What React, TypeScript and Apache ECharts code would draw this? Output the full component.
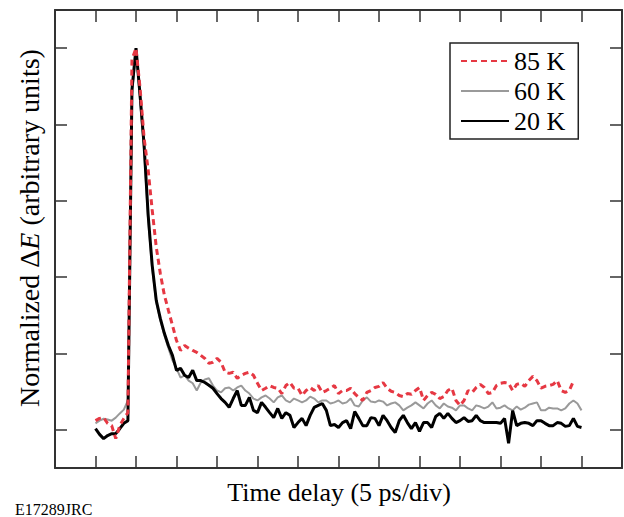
import React, { useEffect, useRef } from "react";
import * as echarts from "echarts";

// Time grid (ps), 0.5 ps steps (5 ps per division)
const timePs = [
  0, 0.5, 1, 1.5, 2, 2.5, 3, 3.5, 4, 4.5,
  5, 5.5, 6, 6.5, 7, 7.5, 8, 8.5, 9, 9.5,
  10, 10.5, 11, 11.5, 12, 12.5, 13, 13.5, 14, 14.5,
  15, 15.5, 16, 16.5, 17, 17.5, 18, 18.5, 19, 19.5,
  20, 20.5, 21, 21.5, 22, 22.5, 23, 23.5, 24, 24.5,
  25, 25.5, 26, 26.5, 27, 27.5, 28, 28.5, 29, 29.5,
  30, 30.5, 31, 31.5, 32, 32.5, 33, 33.5, 34, 34.5,
  35, 35.5, 36, 36.5, 37, 37.5, 38, 38.5, 39, 39.5,
  40, 40.5, 41, 41.5, 42, 42.5, 43, 43.5, 44, 44.5,
  45, 45.5, 46, 46.5, 47, 47.5, 48, 48.5, 49, 49.5,
  50, 50.5, 51, 51.5, 52, 52.5, 53, 53.5, 54, 54.5,
  55, 55.5, 56, 56.5, 57, 57.5, 58, 58.5, 59, 59.5,
  60,
];

const seriesNames = ["85 K", "60 K", "20 K"];

const values85K = [
  0.024, 0.03, 0.032, 0.017, 0.011, -0.023, 0.011, 0.03, 0.045, 0.97,
  1.0, 0.896, 0.765, 0.681, 0.576, 0.479, 0.41, 0.353, 0.313, 0.274,
  0.234, 0.208, 0.221, 0.214, 0.208, 0.203, 0.195, 0.187, 0.174, 0.177,
  0.187, 0.177, 0.151, 0.148, 0.151, 0.135, 0.143, 0.148, 0.151, 0.143,
  0.122, 0.103, 0.109, 0.116, 0.111, 0.109, 0.095, 0.116, 0.124, 0.109,
  0.109, 0.09, 0.103, 0.111, 0.103, 0.116, 0.098, 0.103, 0.109, 0.116,
  0.095, 0.103, 0.103, 0.109, 0.095, 0.085, 0.077, 0.098, 0.103, 0.111,
  0.114, 0.124, 0.109, 0.101, 0.098, 0.09, 0.087, 0.095, 0.093, 0.103,
  0.111, 0.077, 0.09, 0.098, 0.093, 0.082, 0.087, 0.103, 0.109, 0.077,
  0.064, 0.077, 0.103, 0.098, 0.111, 0.119, 0.111, 0.095, 0.098, 0.116,
  0.122, 0.124, 0.122, 0.103, 0.119, 0.122, 0.114, 0.129, 0.14, 0.129,
  0.109, 0.114, 0.116, 0.119, 0.129, 0.103, 0.098, 0.103, 0.127,
];

const values60K = [
  0.017, 0.024, 0.029, 0.027, 0.024, 0.032, 0.043, 0.053, 0.077, 0.877,
  1.0, 0.864, 0.733, 0.549, 0.423, 0.334, 0.287, 0.248, 0.214, 0.182,
  0.161, 0.137, 0.143, 0.129, 0.122, 0.103, 0.124, 0.132, 0.135, 0.116,
  0.103, 0.098, 0.109, 0.111, 0.103, 0.111, 0.116, 0.103, 0.095, 0.082,
  0.077, 0.085, 0.09, 0.082, 0.072, 0.085, 0.09, 0.077, 0.072, 0.082,
  0.077, 0.072, 0.077, 0.087, 0.082, 0.072, 0.077, 0.077, 0.069, 0.072,
  0.077, 0.069, 0.072, 0.082, 0.064, 0.061, 0.077, 0.085, 0.074, 0.072,
  0.077, 0.074, 0.064, 0.069, 0.072, 0.064, 0.051, 0.058, 0.064, 0.072,
  0.064, 0.056, 0.069, 0.077, 0.064, 0.056, 0.069, 0.061, 0.058, 0.051,
  0.064, 0.064, 0.056, 0.051, 0.064, 0.061, 0.056, 0.061, 0.072, 0.056,
  0.058, 0.064, 0.056, 0.051, 0.061, 0.053, 0.058, 0.066, 0.069, 0.072,
  0.051, 0.051, 0.058, 0.056, 0.056, 0.051, 0.056, 0.069, 0.077, 0.069,
  0.051,
];

const values20K = [
  0.003, -0.012, -0.023, -0.015, -0.01, -0.01, 0.003, 0.017, 0.024, 0.891,
  1.0, 0.877, 0.746, 0.563, 0.431, 0.339, 0.292, 0.253, 0.221, 0.195,
  0.156, 0.161, 0.143, 0.137, 0.156, 0.129, 0.129, 0.124, 0.117, 0.109,
  0.095, 0.082, 0.072, 0.059, 0.082, 0.103, 0.064, 0.064, 0.085, 0.051,
  0.045, 0.072, 0.059, 0.045, 0.032, 0.056, 0.03, 0.045, 0.038, 0.006,
  0.019, 0.03, 0.011, 0.038, 0.059, 0.064, 0.069, 0.051, 0.011, 0.014,
  0.006, 0.019, 0.024, 0.003, 0.048, 0.03, 0.011, 0.011, 0.032, 0.03,
  0.011, 0.038, 0.024, 0.006, -0.007, 0.024, 0.038, 0.019, 0.003, 0.019,
  -0.004, 0.019, 0.019, 0.006, 0.035, 0.043, 0.03, 0.043, 0.03, 0.019,
  0.024, 0.032, 0.022, 0.024, 0.038, 0.024, 0.019, 0.019, 0.019, 0.019,
  0.017, 0.03, -0.035, 0.05, 0.011, 0.017, 0.019, 0.017, 0.011, 0.024,
  0.024, 0.017, 0.011, 0.011, 0.019, 0.017, 0.009, 0.011, 0.03, 0.009,
  0.006,
];

const xTitle = "Time delay (5 ps/div)";
const yTitleParts = ["Normalized Δ", "E", " (arbitrary units)"];
const figureId = "E17289JRC";

const SERIF = "'Liberation Serif', 'DejaVu Serif', 'Times New Roman', serif";

const toPairs = (vals: number[]) => vals.map((v, i) => [timePs[i], v]);

export default function App() {
  const ref = useRef<HTMLDivElement>(null);

  useEffect(() => {
    if (!ref.current) return;
    const chart = echarts.init(ref.current, undefined, { renderer: "svg" });

    const axisLine = { show: true, onZero: false, lineStyle: { color: "#333", width: 2 } };
    const axisTick = {
      show: true,
      inside: true,
      length: 12,
      lineStyle: { color: "#333", width: 1.5 },
    };
    const xCommon = {
      type: "value" as const,
      min: -5,
      max: 65,
      interval: 5,
      axisLine,
      axisTick,
      axisLabel: { show: false },
      splitLine: { show: false },
    };
    const yCommon = {
      type: "value" as const,
      min: -0.1,
      max: 1.1,
      splitNumber: 6,
      axisLine,
      axisTick,
      axisLabel: { show: false },
      splitLine: { show: false },
    };

    chart.setOption({
      animation: false,
      backgroundColor: "#fff",
      grid: { left: 55, top: 10, width: 567, height: 458, containLabel: false },
      xAxis: [
        { ...xCommon, position: "bottom" },
        { ...xCommon, position: "top" },
      ],
      yAxis: [
        { ...yCommon, position: "left" },
        { ...yCommon, position: "right" },
      ],
      legend: {
        orient: "vertical",
        left: 450,
        top: 43,
        data: seriesNames,
        itemWidth: 48,
        itemHeight: 14,
        itemGap: 4,
        padding: [5, 13, 5, 10],
        borderColor: "#222",
        borderWidth: 1.5,
        backgroundColor: "#fff",
        itemStyle: { opacity: 0 },
        textStyle: { fontFamily: SERIF, fontSize: 26, color: "#000", padding: [0, 0, 0, 0] },
        selectedMode: false,
      },
      series: [
        {
          name: seriesNames[1],
          type: "line",
          data: toPairs(values60K),
          showSymbol: false,
          symbol: "none",
          lineStyle: { color: "#9a9a9a", width: 2 },
          itemStyle: { color: "#9a9a9a" },
          z: 2,
        },
        {
          name: seriesNames[2],
          type: "line",
          data: toPairs(values20K),
          showSymbol: false,
          symbol: "none",
          lineStyle: { color: "#000000", width: 3 },
          itemStyle: { color: "#000000" },
          z: 3,
        },
        {
          name: seriesNames[0],
          type: "line",
          data: toPairs(values85K),
          showSymbol: false,
          symbol: "none",
          lineStyle: { color: "#e63843", width: 3, type: [6, 4] },
          itemStyle: { color: "#e63843" },
          z: 4,
        },
      ],
      graphic: [
        {
          type: "text",
          x: 339,
          y: 492,
          style: {
            text: xTitle,
            fontFamily: SERIF,
            fontSize: 26,
            fill: "#000",
            align: "center",
            verticalAlign: "middle",
          },
        },
        {
          type: "text",
          x: 29,
          y: 228,
          rotation: Math.PI / 2,
          style: {
            text: `{n|${yTitleParts[0]}}{i|${yTitleParts[1]}}{n|${yTitleParts[2]}}`,
            align: "center",
            verticalAlign: "middle",
            rich: {
              n: { fontFamily: SERIF, fontSize: 28, fill: "#000", color: "#000" },
              i: { fontFamily: SERIF, fontSize: 28, fontStyle: "italic", fill: "#000", color: "#000" },
            },
          },
        },
        {
          type: "text",
          x: 15,
          y: 509,
          style: {
            text: figureId,
            fontFamily: SERIF,
            fontSize: 16,
            fill: "#000",
            align: "left",
            verticalAlign: "middle",
          },
        },
      ],
    });

    return () => chart.dispose();
  }, []);

  return <div ref={ref} style={{ width: 624, height: 517, position: "absolute", left: 0, top: 0 }} />;
}
